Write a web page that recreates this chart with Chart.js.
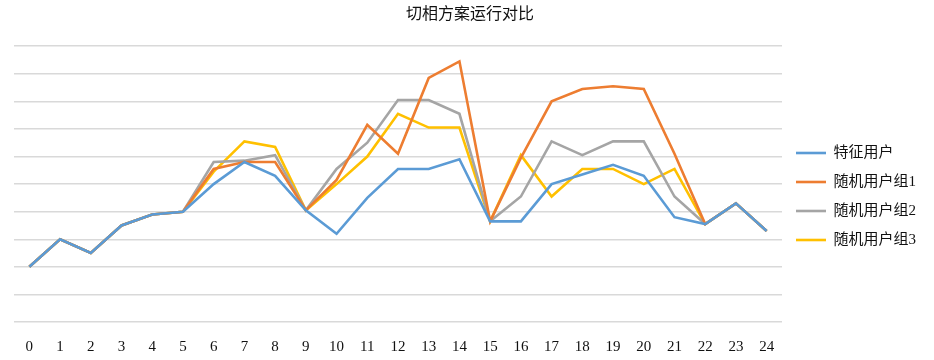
<!DOCTYPE html>
<html lang="zh">
<head>
  <meta charset="UTF-8" />
  <title>切相方案运行对比</title>
  <script src="https://cdn.jsdelivr.net/npm/chart.js"></script>
  <style>
    body { margin: 0; background: #fff; }
    .chart-box { width: 934px; height: 360px; }
  </style>
</head>
<body>
  <div class="chart-box"><canvas id="phaseChart"></canvas></div>

  <script>
    const hours = ['0','1','2','3','4','5','6','7','8','9','10','11','12','13','14','15','16','17','18','19','20','21','22','23','24'];
    const featureUsers = [2.0, 3.0, 2.5, 3.5, 3.9, 4.0, 5.0, 5.8, 5.3, 4.05, 3.2, 4.5, 5.55, 5.55, 5.9, 3.65, 3.65, 5.0, 5.35, 5.7, 5.3, 3.8, 3.55, 4.3, 3.3];
    const randomGroup1 = [2.0, 3.0, 2.5, 3.5, 3.9, 4.0, 5.55, 5.8, 5.8, 4.05, 5.15, 7.15, 6.1, 8.85, 9.45, 3.65, 5.95, 8.0, 8.45, 8.55, 8.45, 6.1, 3.55, 4.3, 3.3];
    const randomGroup2 = [2.0, 3.0, 2.5, 3.5, 3.9, 4.0, 5.8, 5.85, 6.05, 4.05, 5.55, 6.5, 8.05, 8.05, 7.55, 3.65, 4.55, 6.55, 6.05, 6.55, 6.55, 4.55, 3.55, 4.3, 3.3];
    const randomGroup3 = [2.0, 3.0, 2.5, 3.5, 3.9, 4.0, 5.45, 6.55, 6.35, 4.05, 5.0, 6.0, 7.55, 7.05, 7.05, 3.65, 6.05, 4.55, 5.55, 5.55, 5.0, 5.55, 3.55, 4.3, 3.3];

    const fontFamily = '"Liberation Serif", "Noto Sans CJK SC", serif';

    function series(label, data, color) {
      return {
        label,
        data,
        borderColor: color,
        backgroundColor: color,
        borderWidth: 2.6,
        pointRadius: 0,
        tension: 0,
        fill: false
      };
    }

    // nudge the legend down a bit, like the original
    const legendShift = {
      id: 'legendShift',
      afterLayout(chart) {
        chart.legend.top += 14;
        chart.legend.bottom += 14;
      }
    };

    new Chart(document.getElementById('phaseChart'), {
      type: 'line',
      data: {
        labels: hours,
        datasets: [
          series('特征用户', featureUsers, '#5B9BD5'),
          series('随机用户组1', randomGroup1, '#ED7D31'),
          series('随机用户组2', randomGroup2, '#A5A5A5'),
          series('随机用户组3', randomGroup3, '#FFC000')
        ]
      },
      plugins: [legendShift],
      options: {
        responsive: true,
        maintainAspectRatio: false,
        animation: false,
        layout: { padding: { left: 14, right: 8, top: 5, bottom: 0 } },
        plugins: {
          title: {
            display: true,
            text: '切相方案运行对比',
            color: '#111',
            font: { family: fontFamily, size: 16, weight: 'normal' },
            padding: { top: 0, bottom: 22 }
          },
          legend: {
            position: 'right',
            align: 'center',
            labels: {
              usePointStyle: true,
              pointStyle: 'line',
              pointStyleWidth: 30,
              boxHeight: 3,
              padding: 14,
              color: '#111',
              font: { family: fontFamily, size: 15 }
            }
          },
          tooltip: { enabled: false }
        },
        scales: {
          x: {
            offset: true,
            grid: { display: false },
            border: { display: false },
            afterFit(scale) { scale.height = 38; },
            ticks: {
              color: '#111',
              padding: 8,
              maxRotation: 0,
              autoSkip: false,
              font: { family: fontFamily, size: 15 }
            }
          },
          y: {
            min: 0,
            max: 10,
            ticks: { display: false, stepSize: 1 },
            border: { display: false },
            grid: { color: '#d9d9d9', lineWidth: 1.5, drawTicks: false }
          }
        }
      }
    });
  </script>
</body>
</html>
